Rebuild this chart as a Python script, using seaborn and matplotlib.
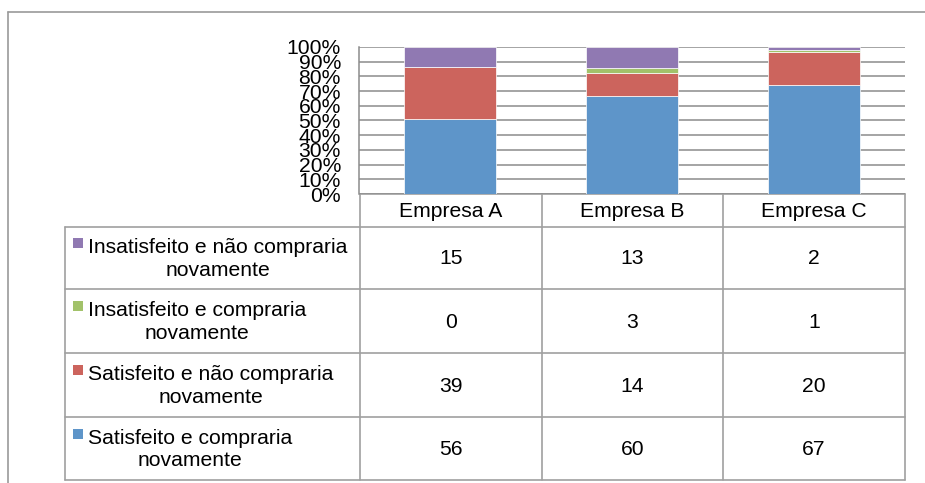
import numpy as np
import pandas as pd
import matplotlib
matplotlib.use("Agg")
import matplotlib.pyplot as plt
from matplotlib.patches import Rectangle
import seaborn as sns

# Response counts per company
empresas = ["Empresa A", "Empresa B", "Empresa C"]
satisf_compraria = [56, 60, 67]
satisf_nao_compraria = [39, 14, 20]
insatisf_compraria = [0, 3, 1]
insatisf_nao_compraria = [15, 13, 2]

# Series labels (stack order bottom -> top) and colours
series_labels = [
    "Satisfeito e compraria\nnovamente",
    "Satisfeito e não compraria\nnovamente",
    "Insatisfeito e compraria\nnovamente",
    "Insatisfeito e não compraria\nnovamente",
]
series_colors = ["#5E95C9", "#CC645D", "#A2C26A", "#9079B2"]
ytick_labels = ["0%", "10%", "20%", "30%", "40%", "50%", "60%", "70%", "80%", "90%", "100%"]

counts = pd.DataFrame(
    [satisf_compraria, satisf_nao_compraria, insatisf_compraria, insatisf_nao_compraria],
    index=series_labels, columns=empresas,
)
shares = counts / counts.sum(axis=0)
bottoms = shares.cumsum(axis=0) - shares

sns.set_theme(style="white")
plt.rcParams["font.family"] = ["Liberation Sans", "DejaVu Sans"]

W, H = 925, 483
FS = 15.2
fig = plt.figure(figsize=(W / 100, H / 100), dpi=100)
fig.patch.set_facecolor("white")


def px_axes(x0, y0, x1, y1, **kw):
    return fig.add_axes([x0 / W, 1 - y1 / H, (x1 - x0) / W, (y1 - y0) / H], **kw)


# Overlay for the frame and the data table (pixel coordinates)
ov = px_axes(0, 0, W, H)
ov.set_xlim(0, W)
ov.set_ylim(H, 0)
ov.axis("off")

# Stacked 100% bars
ax = px_axes(359, 47, 905, 194)
for lab, col in zip(series_labels, series_colors):
    sns.barplot(x=empresas, y=shares.loc[lab].values, bottom=bottoms.loc[lab].values,
                color=col, saturation=1, width=0.51, errorbar=None, edgecolor="white",
                linewidth=0.5, ax=ax, zorder=3)
ax.set_xlim(-0.5, 2.5)
ax.set_ylim(0, 1)
ax.set_yticks(np.linspace(0, 1, 11))
ax.set_yticklabels(ytick_labels, fontsize=FS, color="black")
ax.tick_params(axis="y", length=0, pad=13)
ax.set_xticks([])
ax.set_xlabel("")
ax.set_ylabel("")
ax.yaxis.grid(True, color="#8C8C8C", linewidth=1.1, zorder=0)
ax.set_axisbelow(True)
for s in ["top", "right", "bottom"]:
    ax.spines[s].set_visible(False)
ax.spines["left"].set_color("#8C8C8C")
ax.spines["left"].set_linewidth(1.1)
ax.patch.set_alpha(0)

# Outer chart frame
frame_col = "#9A9A9A"
ov.plot([8, W + 5], [12, 12], color=frame_col, lw=1.2, clip_on=False)
ov.plot([8, 8], [12, H + 5], color=frame_col, lw=1.2, clip_on=False)

# Data table
line_col = "#A0A0A0"
col_x = [360, 542, 723, 905]
label_x0 = 65
row_y = [227, 289, 353, 417, 480]
header_top = 194

# header row (company names)
ov.plot([col_x[0], col_x[-1]], [header_top, header_top], color=line_col, lw=1.2)
for x in col_x:
    ov.plot([x, x], [header_top, row_y[-1]], color=line_col, lw=1.2)
ov.plot([label_x0, label_x0], [row_y[0], row_y[-1]], color=line_col, lw=1.2)
for y in row_y:
    ov.plot([label_x0, col_x[-1]], [y, y], color=line_col, lw=1.2)

for j, name in enumerate(empresas):
    cx = (col_x[j] + col_x[j + 1]) / 2
    ov.text(cx, (header_top + row_y[0]) / 2 + 1, name, ha="center", va="center",
            fontsize=FS, color="black")

# rows: top series first, as in the stack
for i, (lab, col) in enumerate(zip(series_labels[::-1], series_colors[::-1])):
    yc = (row_y[i] + row_y[i + 1]) / 2
    ov.add_patch(Rectangle((73, yc - 20), 10, 10, facecolor=col, edgecolor="none"))
    ov.text(88, yc + 1, lab, ha="left", va="center", multialignment="center",
            fontsize=FS, color="black", linespacing=1.25)
    for j, name in enumerate(empresas):
        cx = (col_x[j] + col_x[j + 1]) / 2
        ov.text(cx, yc + 1, str(counts.loc[lab, name]), ha="center", va="center",
                fontsize=FS, color="black")

fig.savefig("out.png", dpi=100, facecolor="white")
